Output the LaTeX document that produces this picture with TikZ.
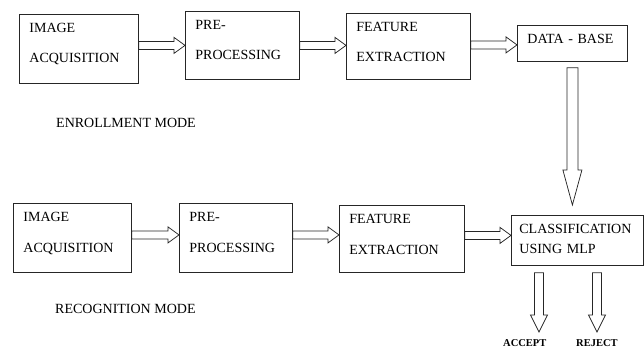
\documentclass[tikz,border=0pt]{standalone}
\usepackage{fontspec}
\setmainfont{Liberation Serif}
\usetikzlibrary{calc}
\begin{document}
\begin{tikzpicture}[x=1pt, y=-1pt]

% definitions
\tikzstyle{stage} = [rectangle, anchor=north west, draw=black!85, line width=0.8pt, align=left, inner xsep=10pt, inner ysep=9pt, text height=9.5pt, font=\fontsize{14}{30}\selectfont]

\tikzstyle{mode} = [anchor=base west, inner sep=0pt, font=\fontsize{14}{17}\selectfont]

\tikzstyle{decision} = [anchor=base west, inner sep=0pt, font=\fontsize{10.5}{12}\selectfont\bfseries]

\tikzstyle{arrow} = [draw=black!85, line width=0.75pt, to path={let \p1=(\tikztostart), \p2=(\tikztotarget) in (\x1,\y1+4pt) -- (\x2-11pt,\y1+4pt) -- (\x2-11pt,\y1+8pt) -- (\x2,\y1) -- (\x2-11pt,\y1-8pt) -- (\x2-11pt,\y1-4pt) -- (\x1,\y1-4pt) -- cycle}]

\tikzstyle{dbarrow} = [draw=black!85, line width=0.75pt, to path={let \p1=(\tikztostart), \p2=(\tikztotarget) in (\x1-5.5pt,\y1) -- (\x1-5.5pt,\y2+35pt) -- (\x1-9.5pt,\y2+35pt) -- (\x1,\y2) -- (\x1+9.5pt,\y2+35pt) -- (\x1+5.5pt,\y2+35pt) -- (\x1+5.5pt,\y1) -- cycle}]

\tikzstyle{outarrow} = [draw=black!85, line width=0.75pt, to path={let \p1=(\tikztostart), \p2=(\tikztotarget) in (\x1-4.5pt,\y1) -- (\x1-4.5pt,\y2+17pt) -- (\x1-8.5pt,\y2+17pt) -- (\x1,\y2) -- (\x1+8.5pt,\y2+17pt) -- (\x1+4.5pt,\y2+17pt) -- (\x1+4.5pt,\y1) -- cycle}]

\useasboundingbox (0,0) rectangle (644,347);

% enrollment mode
\node (acqE) [stage, text width=99pt, text depth=41.5pt] at (19,14) {IMAGE\\ACQUISITION};

\node (preE) [stage, text width=94pt, text depth=40.5pt] at (185,11) {PRE-\\PROCESSING};

\node (featE) [stage, text width=104pt, text depth=38.5pt] at (346,13) {FEATURE\\EXTRACTION};

\node (dbE) [stage, text width=90pt, text depth=8.5pt] at (517,25) {DATA - BASE};

\node (enroll) [mode] at (56,128) {ENROLLMENT MODE};

% recognition mode
\node (acqR) [stage, text width=98pt, text depth=41.5pt, font=\fontsize{14}{31}\selectfont] at (13,203) {IMAGE\\ACQUISITION};

\node (preR) [stage, text width=93pt, text depth=41.5pt, font=\fontsize{14}{31}\selectfont] at (179,203) {PRE-\\PROCESSING};

\node (featR) [stage, text width=105pt, text depth=39.5pt, font=\fontsize{14}{31}\selectfont] at (339,205) {FEATURE\\EXTRACTION};

\node (clsR) [stage, inner xsep=8pt, text width=116pt, text depth=22.5pt, font=\fontsize{14}{20}\selectfont] at (511,215) {CLASSIFICATION\\USING MLP};

\node (recog) [mode] at (55,313) {RECOGNITION MODE};

\node (acc) [decision] at (503,346) {ACCEPT};
\node (rej) [decision] at (576,346) {REJECT};

\coordinate (accTip) at (539,332);
\coordinate (rejTip) at (597,332);

\draw [arrow] (acqE.east |- preE.west) to (preE.west);
\draw [arrow] ($(preE.east |- featE.west)+(0,-1)$) to ($(featE.west)+(0,-1)$);
\draw [arrow] ($(featE.east)+(0,-1.5)$) to ($(dbE.west |- featE.east)+(0,-1.5)$);
\draw [dbarrow] ($(dbE.south)+(0,6)$) to ($(dbE.south |- clsR.north)+(0,-10)$);

\draw [arrow] ($(acqR.east)+(0,-3)$) to ($(preR.west)+(0,-3)$);
\draw [arrow] ($(preR.east |- featR.west)+(0,-4)$) to ($(featR.west)+(0,-4)$);
\draw [arrow] ($(featR.east |- clsR.west)+(0,-5)$) to ($(clsR.west)+(0,-5)$);

\draw [outarrow] ($(clsR.south -| accTip)+(0,7)$) to (accTip);
\draw [outarrow] ($(clsR.south -| rejTip)+(0,7)$) to (rejTip);

\end{tikzpicture}
\end{document}
